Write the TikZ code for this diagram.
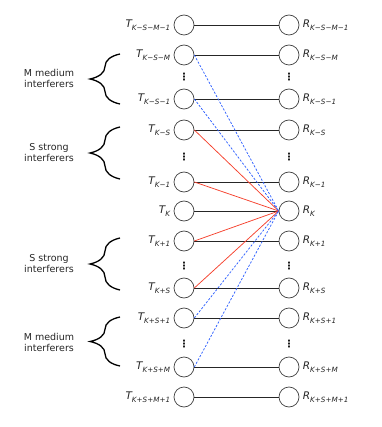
\documentclass[tikz,border=0pt]{standalone}
\usepackage{fontspec}
\setmainfont{DejaVu Sans}
\usetikzlibrary{decorations.pathreplacing}
\definecolor{strongred}{RGB}{245,65,45}
\definecolor{mediumblue}{RGB}{45,95,255}
\newcommand{\lab}[2]{{\fontsize{10.5}{12}\selectfont\itshape #1\raisebox{-0.45ex}{\fontsize{7.2}{8}\selectfont #2}}}
\begin{document}
\begin{tikzpicture}[x=1pt,y=-1pt,font=\fontsize{9.5}{11}\selectfont,text=black!85,
    user/.style={circle,draw=black!75,line width=0.7pt,minimum size=20pt,inner sep=0pt},
    gap/.style={inner sep=0pt,text=black,font=\fontsize{10}{10}\selectfont\bfseries},
    link/.style={line width=0.8pt,black!85},
    strong/.style={line width=0.75pt,strongred},
    medium/.style={line width=0.75pt,mediumblue,dash pattern=on 2.2pt off 1.6pt},
    brace/.style={decorate,decoration={brace,amplitude=30pt},line width=1.3pt}]
    \useasboundingbox (0,0) rectangle (381,427);

    % transmitters
    \node[user,label=left:\lab{T}{K−S−M−1}] (t1) at (184,25) {};
    \node[user,label=left:\lab{T}{K−S−M}] (t2) at (184,55) {};
    \node[gap] (td1) at (184,77) {⋮};
    \node[user,label=left:\lab{T}{K−S−1}] (t3) at (184,99) {};
    \node[user,label=left:\lab{T}{K−S}] (t4) at (184,130) {};
    \node[gap] (td2) at (184,157) {⋮};
    \node[user,label=left:\lab{T}{K−1}] (t5) at (184,182) {};
    \node[user,label=left:\lab{T}{K}] (t6) at (184,211) {};
    \node[user,label=left:\lab{T}{K+1}] (t7) at (184,241) {};
    \node[gap] (td3) at (184,266) {⋮};
    \node[user,label=left:\lab{T}{K+S}] (t8) at (184,288) {};
    \node[user,label=left:\lab{T}{K+S+1}] (t9) at (184,318) {};
    \node[gap] (td4) at (184,344) {⋮};
    \node[user,label=left:\lab{T}{K+S+M}] (t10) at (184,367) {};
    \node[user,label=left:\lab{T}{K+S+M+1}] (t11) at (184,397) {};

    % receivers
    \node[user,label=right:\lab{R}{K−S−M−1}] (r1) at (289,25) {};
    \node[user,label=right:\lab{R}{K−S−M}] (r2) at (289,55) {};
    \node[gap] (rd1) at (289,77) {⋮};
    \node[user,label=right:\lab{R}{K−S−1}] (r3) at (289,99) {};
    \node[user,label=right:\lab{R}{K−S}] (r4) at (289,130) {};
    \node[gap] (rd2) at (289,157) {⋮};
    \node[user,label=right:\lab{R}{K−1}] (r5) at (289,182) {};
    \node[user,label=right:\lab{R}{K}] (r6) at (289,211) {};
    \node[user,label=right:\lab{R}{K+1}] (r7) at (289,241) {};
    \node[gap] (rd3) at (289,266) {⋮};
    \node[user,label=right:\lab{R}{K+S}] (r8) at (289,288) {};
    \node[user,label=right:\lab{R}{K+S+1}] (r9) at (289,318) {};
    \node[gap] (rd4) at (289,344) {⋮};
    \node[user,label=right:\lab{R}{K+S+M}] (r10) at (289,367) {};
    \node[user,label=right:\lab{R}{K+S+M+1}] (r11) at (289,397) {};

    % direct links
    \draw[link] (t1) -- (r1);
    \draw[link] (t2) -- (r2);
    \draw[link] (t3) -- (r3);
    \draw[link] (t4) -- (r4);
    \draw[link] (t5) -- (r5);
    \draw[link] (t6) -- (r6);
    \draw[link] (t7) -- (r7);
    \draw[link] (t8) -- (r8);
    \draw[link] (t9) -- (r9);
    \draw[link] (t10) -- (r10);
    \draw[link] (t11) -- (r11);

    % interference into R_K
    \draw[strong] (t4.east) -- (r6.west);
    \draw[strong] (t5.east) -- (r6.west);
    \draw[strong] (t7.east) -- (r6.west);
    \draw[strong] (t8.east) -- (r6.west);
    \draw[medium] (t2.east) -- (r6.west);
    \draw[medium] (t3.east) -- (r6.west);
    \draw[medium] (t9.east) -- (r6.west);
    \draw[medium] (t10.east) -- (r6.west);

    % groups
    \draw[brace] (120,104) -- (120,54);
    \draw[brace] (120,179) -- (120,127);
    \draw[brace] (120,290) -- (120,238);
    \draw[brace] (120,366) -- (120,317);
    \node[align=center] (g1) at (49,78) {M medium\\interferers};
    \node[align=center] (g2) at (49,153) {S strong\\interferers};
    \node[align=center] (g3) at (49,264) {S strong\\interferers};
    \node[align=center] (g4) at (49,342) {M medium\\interferers};
\end{tikzpicture}
\end{document}
